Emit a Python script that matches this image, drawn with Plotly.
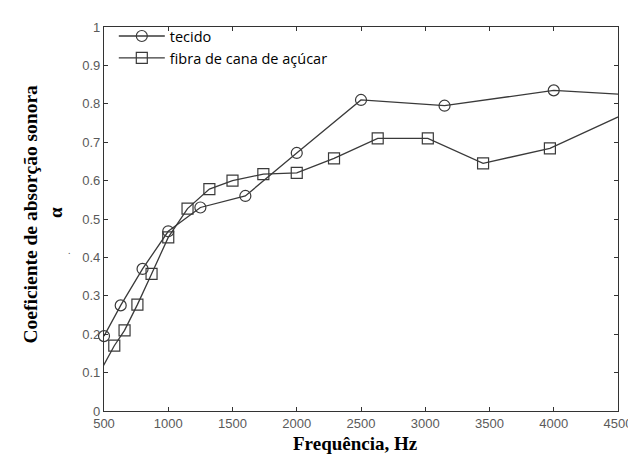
import plotly.graph_objects as go

# Data
tecido_freq = [500, 630, 800, 1000, 1250, 1600, 2000, 2500, 3150, 4000, 5000]
tecido_alpha = [0.195, 0.275, 0.37, 0.468, 0.53, 0.56, 0.672, 0.81, 0.795, 0.835, 0.815]

fibra_freq = [450, 580, 660, 760, 870, 1000, 1150, 1320, 1500, 1740, 2000, 2290, 2630, 3020, 3450, 3970, 5000]
fibra_alpha = [0.09, 0.17, 0.21, 0.277, 0.357, 0.452, 0.527, 0.578, 0.60, 0.617, 0.62, 0.658, 0.71, 0.71, 0.645, 0.684, 0.843]

x_ticks = [500, 1000, 1500, 2000, 2500, 3000, 3500, 4000, 4500]
y_ticks = [0, 0.1, 0.2, 0.3, 0.4, 0.5, 0.6, 0.7, 0.8, 0.9, 1]
y_ticklabels = ["0", "0.1", "0.2", "0.3", "0.4", "0.5", "0.6", "0.7", "0.8", "0.9", "1"]

W, H = 636, 457
L, R, T, B = 96, 16, 15, 54
pw, ph = W - L - R, H - T - B

def px2paper(px, py):
    return (px - L) / pw, (H - B - py) / ph

line_col = "#3a3a3a"
fig = go.Figure()
fig.add_trace(go.Scatter(
    x=tecido_freq, y=tecido_alpha, name="tecido", mode="lines+markers",
    line=dict(color=line_col, width=1.3),
    marker=dict(symbol="circle-open", size=11, color=line_col, line=dict(width=1.2)),
    cliponaxis=False))
fig.add_trace(go.Scatter(
    x=fibra_freq, y=fibra_alpha, name="fibra de cana de açúcar", mode="lines+markers",
    line=dict(color=line_col, width=1.3),
    marker=dict(symbol="square-open", size=11, color=line_col, line=dict(width=1.2)),
    cliponaxis=True))

axis_common = dict(showline=True, linecolor="#333", linewidth=1.2, mirror="ticks",
                   ticks="inside", ticklen=4, tickcolor="#333", showgrid=False, zeroline=False,
                   tickfont=dict(family="Liberation Sans", size=13, color="#5a5a5a"))
fig.update_xaxes(range=[500, 4500], tickvals=x_ticks, ticktext=[str(v) for v in x_ticks], **axis_common)
fig.update_yaxes(range=[0, 1], tickvals=y_ticks, ticktext=y_ticklabels, **axis_common)

annos = []
ax, ay = px2paper(352, 436)
annos.append(dict(x=ax, y=ay, xref="paper", yref="paper", text="<b>Frequência, Hz</b>", showarrow=False,
                  font=dict(family="Liberation Serif", size=19, color="black"), xanchor="center", yanchor="middle"))
ax, ay = px2paper(21, 204)
annos.append(dict(x=ax, y=ay, xref="paper", yref="paper", text="<b>Coeficiente de absorção sonora</b>", showarrow=False,
                  textangle=-90, font=dict(family="Liberation Serif", size=19.5, color="black"),
                  xanchor="center", yanchor="middle"))
ax, ay = px2paper(46, 202)
annos.append(dict(x=ax, y=ay, xref="paper", yref="paper", text="<b>α</b>", showarrow=False,
                  textangle=-90, font=dict(family="Liberation Serif", size=19, color="black"),
                  xanchor="center", yanchor="middle"))
ax, ay = px2paper(61, 241)
annos.append(dict(x=ax, y=ay, xref="paper", yref="paper", text=".", showarrow=False,
                  font=dict(family="Liberation Serif", size=10, color="#555"),
                  xanchor="center", yanchor="middle"))

lx, ly = px2paper(106, 8)
fig.update_layout(
    width=W, height=H,
    margin=dict(l=L, r=R, t=T, b=B, pad=0),
    paper_bgcolor="white", plot_bgcolor="white",
    annotations=annos,
    showlegend=True,
    legend=dict(x=lx, y=ly, xanchor="left", yanchor="top", bgcolor="rgba(0,0,0,0)",
                font=dict(family="Open Sans", size=14.5, color="black"),
                tracegroupgap=0, itemwidth=46),
)
fig.write_html("out.html")
